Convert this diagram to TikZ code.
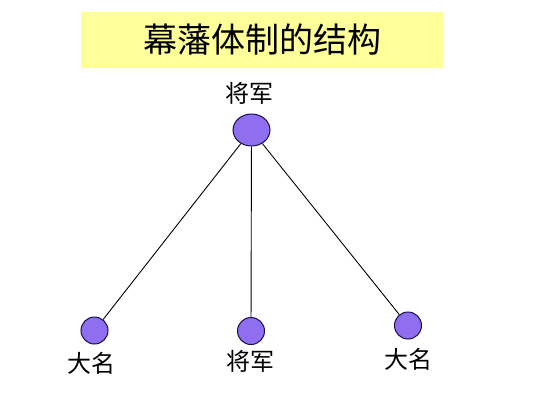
\documentclass[tikz,border=0pt]{standalone}
\usepackage{fontspec}
\usetikzlibrary{shapes.geometric}
\newfontfamily\cjk{Noto Sans CJK SC}
\definecolor{titleyellow}{HTML}{FFFF99}
\definecolor{dotfill}{HTML}{8F6EF0}
\definecolor{dotline}{HTML}{1A1050}
\begin{document}
\begin{tikzpicture}[x=1pt,y=-1pt,
  dot/.style={draw=dotline,line width=1pt,fill=dotfill,circle,minimum size=27pt,inner sep=0pt},
  topdot/.style={draw=dotline,line width=1pt,fill=dotfill,ellipse,minimum width=37pt,minimum height=32pt,inner sep=0pt},
  lbl/.style={font=\cjk\fontsize{24}{26}\selectfont,inner sep=0pt,text=black},
  conn/.style={draw=black,line width=0.9pt}]
\useasboundingbox (0,0) rectangle (536,402);
\fill[white] (0,0) rectangle (536,402);
\node[fill=titleyellow,minimum width=362pt,minimum height=56pt,inner sep=0pt] (title) at (262,40) {};
\node[font=\cjk\fontsize{34}{36}\selectfont,inner sep=0pt] (titletext) at (262,40) {幕藩体制的结构};
\node[topdot] (top) at (251.5,130) {};
\node[dot] (l) at (94.5,330.5) {};
\node[dot] (m) at (251,331) {};
\node[dot] (r) at (408,325.5) {};
\draw[conn] (top) -- (l);
\draw[conn] (top) -- (m);
\draw[conn] (top) -- (r);
\node[lbl] (toplbl) at (249,93) {将军};
\node[lbl] (llbl) at (91,363) {大名};
\node[lbl] (mlbl) at (250,361) {将军};
\node[lbl] (rlbl) at (408,359) {大名};
\end{tikzpicture}
\end{document}
